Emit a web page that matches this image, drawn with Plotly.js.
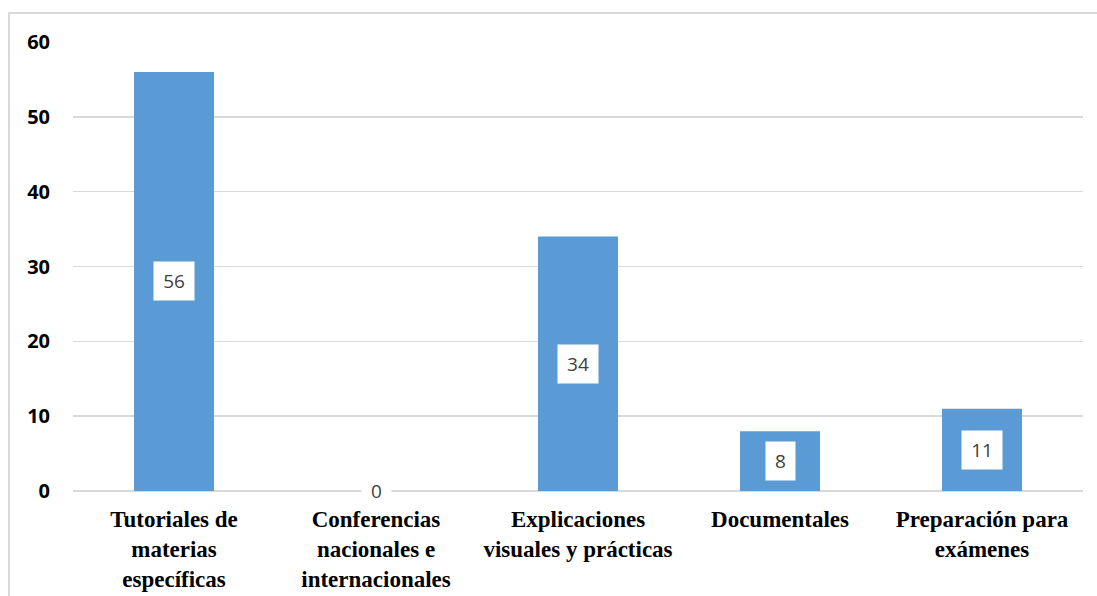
<!DOCTYPE html>
<html>
<head>
<meta charset="utf-8">
<script src="https://cdn.plot.ly/plotly-3.0.1.min.js"></script>
<style>
  html, body { margin: 0; padding: 0; background: #ffffff; }
  #chart { width: 1097px; height: 596px; }
</style>
</head>
<body>
<div id="chart"></div>
<script>
const categories = [
  "Tutoriales de<br>materias<br>específicas",
  "Conferencias<br>nacionales e<br>internacionales",
  "Explicaciones<br>visuales y prácticas",
  "Documentales",
  "Preparación para<br>exámenes"
];
const values = [56, 0, 34, 8, 11];
const yTickValues = [0, 10, 20, 30, 40, 50, 60];

const barColor = "#5b9bd5";
const gridColor = "#d9d9d9";

const trace = {
  type: "bar",
  x: categories,
  y: values,
  marker: { color: barColor, line: { width: 0 } },
  hoverinfo: "skip",
  cliponaxis: false
};

const annotations = categories.map((c, i) => {
  const label = String(values[i]);
  return {
    x: c,
    y: values[i] / 2,
    xref: "x",
    yref: "y",
    text: label,
    showarrow: false,
    bgcolor: "#ffffff",
    borderpad: 0,
    width: label.length * 11 + 18,
    height: values[i] === 0 ? 24 : 38,
    font: { family: "Open Sans, sans-serif", size: 19, color: "#404040" }
  };
});

// Outer chart frame (top & left edges visible in reference)
const x0 = (9 - 73) / 1010;
const yTop = 1 + (42 - 13) / 449;
const shapes = [
  {
    type: "path",
    xref: "paper", yref: "paper",
    path: `M ${x0} -0.5 L ${x0} ${yTop} L 1.05 ${yTop}`,
    line: { color: gridColor, width: 2 }
  }
];

const layout = {
  width: 1097,
  height: 596,
  margin: { l: 73, r: 14, t: 42, b: 105, pad: 0 },
  paper_bgcolor: "#ffffff",
  plot_bgcolor: "#ffffff",
  showlegend: false,
  bargap: 0.604,
  xaxis: {
    type: "category",
    showgrid: false,
    zeroline: false,
    showline: false,
    ticks: "",
    tickangle: 0,
    ticklabelstandoff: 12,
    tickfont: { family: "Liberation Serif, Times New Roman, serif", size: 23, color: "#000000", weight: "bold" }
  },
  yaxis: {
    range: [0, 60],
    tickvals: yTickValues,
    ticktext: yTickValues.map(String),
    showgrid: true,
    gridcolor: gridColor,
    gridwidth: 1.5,
    zeroline: true,
    zerolinecolor: gridColor,
    zerolinewidth: 1.5,
    showline: false,
    ticks: "",
    ticklabelstandoff: 22,
    tickfont: { family: "Open Sans, sans-serif", size: 20, color: "#000000", weight: "bold" }
  },
  annotations: annotations,
  shapes: shapes
};

Plotly.newPlot("chart", [trace], layout, { displayModeBar: false, staticPlot: true });
</script>
</body>
</html>
